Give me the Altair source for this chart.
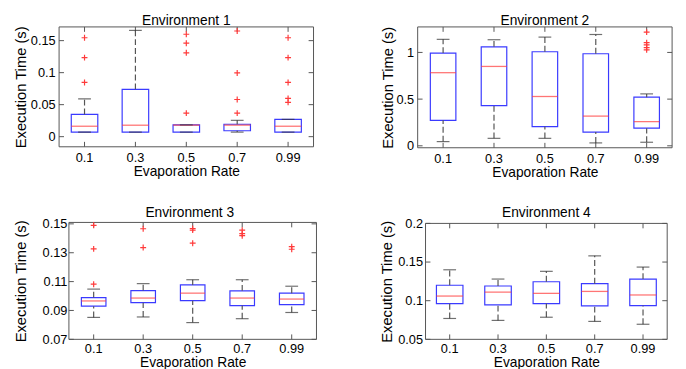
import altair as alt
import pandas as pd

cats = ["0.1", "0.3", "0.5", "0.7", "0.99"]

# Environment 1
e1_q1 = [0.0071, 0.0071, 0.0071, 0.0092, 0.0071]
e1_med = [0.0163, 0.0179, 0.0180, 0.0180, 0.0163]
e1_q3 = [0.0347, 0.0740, 0.0184, 0.0194, 0.0270]
e1_lo = [0.0071, 0.0071, 0.0071, 0.0071, 0.0071]
e1_hi = [0.0590, 0.1660, 0.0184, 0.0255, 0.0270]
e1_out_rate = ["0.1", "0.1", "0.1", "0.5", "0.5", "0.5", "0.5",
               "0.7", "0.7", "0.7", "0.7", "0.99", "0.99", "0.99", "0.99", "0.99"]
e1_out_val = [0.1545, 0.1234, 0.0847, 0.160, 0.146, 0.131, 0.0367,
              0.165, 0.0995, 0.058, 0.0367, 0.1545, 0.1234, 0.0847, 0.0597, 0.0535]

# Environment 2
e2_q1 = [0.273, 0.430, 0.206, 0.147, 0.189]
e2_med = [0.783, 0.850, 0.528, 0.318, 0.259]
e2_q3 = [0.993, 1.060, 1.007, 0.986, 0.521]
e2_lo = [0.045, 0.080, 0.080, 0.031, 0.038]
e2_hi = [1.140, 1.136, 1.164, 1.192, 0.556]
e2_out_rate = ["0.99", "0.99", "0.99", "0.99", "0.99"]
e2_out_val = [1.217, 1.105, 1.080, 1.052, 1.028]

# Environment 3
e3_q1 = [0.0930, 0.0954, 0.0968, 0.0934, 0.0941]
e3_med = [0.0966, 0.0986, 0.1020, 0.0986, 0.0979]
e3_q3 = [0.0989, 0.1038, 0.1077, 0.1036, 0.1020]
e3_lo = [0.0852, 0.0855, 0.0816, 0.0843, 0.0886]
e3_hi = [0.1048, 0.1086, 0.1113, 0.1113, 0.1068]
e3_out_rate = ["0.1", "0.1", "0.1", "0.3", "0.3", "0.5", "0.5", "0.5",
               "0.7", "0.7", "0.7", "0.99", "0.99"]
e3_out_val = [0.149, 0.1327, 0.1082, 0.1466, 0.1336, 0.1468, 0.1457, 0.1366,
              0.1457, 0.1432, 0.1418, 0.1342, 0.1324]

# Environment 4
e4_q1 = [0.0963, 0.0946, 0.0963, 0.0933, 0.0937]
e4_med = [0.1060, 0.1110, 0.1095, 0.1120, 0.1074]
e4_q3 = [0.1200, 0.1190, 0.1245, 0.1220, 0.1280]
e4_lo = [0.0770, 0.0745, 0.0786, 0.0732, 0.0695]
e4_hi = [0.1400, 0.1280, 0.1380, 0.1580, 0.1435]
e4_out_rate = []
e4_out_val = []

y_ticks = {
    1: [0, 0.05, 0.1, 0.15],
    2: [0, 0.5, 1],
    3: [0.07, 0.09, 0.11, 0.13, 0.15],
    4: [0.05, 0.1, 0.15, 0.2],
}
y_domains = {
    1: [-0.0158, 0.1714],
    2: [-0.021, 1.273],
    3: [0.07, 0.151],
    4: [0.05, 0.2],
}

FONT = "Liberation Sans"
BLUE = "#3a3aff"
RED = "#ff3a3a"
WHISK = "#555555"
FRAME = "#555555"


def panel(n, q1, med, q3, lo, hi, out_rate, out_val, width, height, box,
          ylabpad, ytitlepad, xlabpad, xtitlepad, L=0, R=0):
    df = pd.DataFrame({"rate": cats, "q1": q1, "med": med, "q3": q3, "lo": lo, "hi": hi})
    odf = pd.DataFrame({"rate": out_rate, "val": out_val})
    ydf = pd.DataFrame({"v": y_ticks[n]})
    xdf = pd.DataFrame({"rate": cats})
    fdf = pd.DataFrame({"f": [0]})
    gw = width + L + R

    xscale = alt.Scale(type="band", domain=cats, paddingInner=0, paddingOuter=0,
                       range=[L, L + width])
    xaxis = alt.Axis(title="Evaporation Rate", labelAngle=0, ticks=False, tickSize=0,
                     domain=False, grid=False, labelPadding=xlabpad, titlePadding=xtitlepad,
                     labelFontSize=13, titleFontSize=14, labelFont=FONT, titleFont=FONT,
                     titleFontWeight="normal", labelColor="black", titleColor="black")
    yscale = alt.Scale(domain=y_domains[n], nice=False, zero=False)
    yaxis_kw = dict(title="Execution Time (s)", values=y_ticks[n], format="~g", ticks=False,
                    tickSize=0, domain=False, grid=False, labelPadding=ylabpad,
                    titlePadding=ytitlepad, labelFontSize=13, titleFontSize=15,
                    labelFont=FONT, titleFont=FONT, titleFontWeight="normal",
                    labelColor="black", titleColor="black")
    if L:
        yaxis_kw["offset"] = -L
    yaxis = alt.Axis(**yaxis_kw)

    def X():
        return alt.X("rate:N", scale=xscale, axis=xaxis, sort=cats)

    def Y(field):
        return alt.Y(field, type="quantitative", scale=yscale, axis=yaxis)

    frame = alt.Chart(fdf).mark_rect(fill="white", fillOpacity=0, stroke=FRAME,
                                     strokeWidth=1).encode(
        x=alt.value(L), x2=alt.value(L + width), y=alt.value(0), y2=alt.value(height))
    boxes = alt.Chart(df).mark_bar(size=box, fill="white", fillOpacity=0, stroke=BLUE,
                                   strokeWidth=1.2).encode(x=X(), y=Y("q1"), y2="q3")
    medians = alt.Chart(df).mark_tick(size=box, thickness=1.3, color=RED).encode(x=X(), y=Y("med"))
    wup = alt.Chart(df).mark_rule(color=WHISK, strokeDash=[6, 3], strokeWidth=1.2).encode(
        x=X(), y=Y("q3"), y2="hi")
    wlo = alt.Chart(df).mark_rule(color=WHISK, strokeDash=[6, 3], strokeWidth=1.2).encode(
        x=X(), y=Y("lo"), y2="q1")
    cap_hi = alt.Chart(df).mark_tick(size=13, thickness=1.2, color="#333333").encode(x=X(), y=Y("hi"))
    cap_lo = alt.Chart(df).mark_tick(size=13, thickness=1.2, color="#333333").encode(x=X(), y=Y("lo"))
    outl = alt.Chart(odf).mark_point(shape="M-1,0H1M0,-1V1", filled=False, size=36,
                                     strokeWidth=1.2, color=RED, opacity=1).encode(x=X(), y=Y("val"))
    ytl = alt.Chart(ydf).mark_rule(color=FRAME, strokeWidth=1).encode(
        y=Y("v"), x=alt.value(L), x2=alt.value(L + 5))
    ytr = alt.Chart(ydf).mark_rule(color=FRAME, strokeWidth=1).encode(
        y=Y("v"), x=alt.value(L + width - 5), x2=alt.value(L + width))
    xtb = alt.Chart(xdf).mark_rule(color=FRAME, strokeWidth=1).encode(
        x=X(), y=alt.value(height - 5), y2=alt.value(height))
    xtt = alt.Chart(xdf).mark_rule(color=FRAME, strokeWidth=1).encode(
        x=X(), y=alt.value(0), y2=alt.value(5))

    layers = [frame, ytl, ytr, xtb, xtt, boxes, medians, wup, wlo, cap_hi, cap_lo]
    if len(out_val):
        layers.append(outl)
    return alt.layer(*layers).properties(
        width=gw, height=height,
        title=alt.TitleParams(f"Environment {n}", fontSize=14, fontWeight="normal", font=FONT,
                              color="black", offset=-2),
    )


p1 = panel(1, e1_q1, e1_med, e1_q3, e1_lo, e1_hi, e1_out_rate, e1_out_val, 259, 122, 27, 4, 2, 5, 0)
p2 = panel(2, e2_q1, e2_med, e2_q3, e2_lo, e2_hi, e2_out_rate, e2_out_val, 259, 123, 26, 4, 1, 5, 0)
p3 = panel(3, e3_q1, e3_med, e3_q3, e3_lo, e3_hi, e3_out_rate, e3_out_val, 252, 119, 25, 2, 14, 3, 1, L=10, R=4)
p4 = panel(4, e4_q1, e4_med, e4_q3, e4_lo, e4_hi, e4_out_rate, e4_out_val, 246, 118, 27, 3, 3, 3, 1)

chart = alt.concat(p1, p2, p3, p4, columns=2, spacing={"row": 27, "column": 60}).properties(
    align="none",
    padding={"left": 5, "top": 2, "right": 5, "bottom": 0}
).configure_view(stroke=None)

chart.save("out.html", embed_options={"renderer": "svg", "actions": False})
